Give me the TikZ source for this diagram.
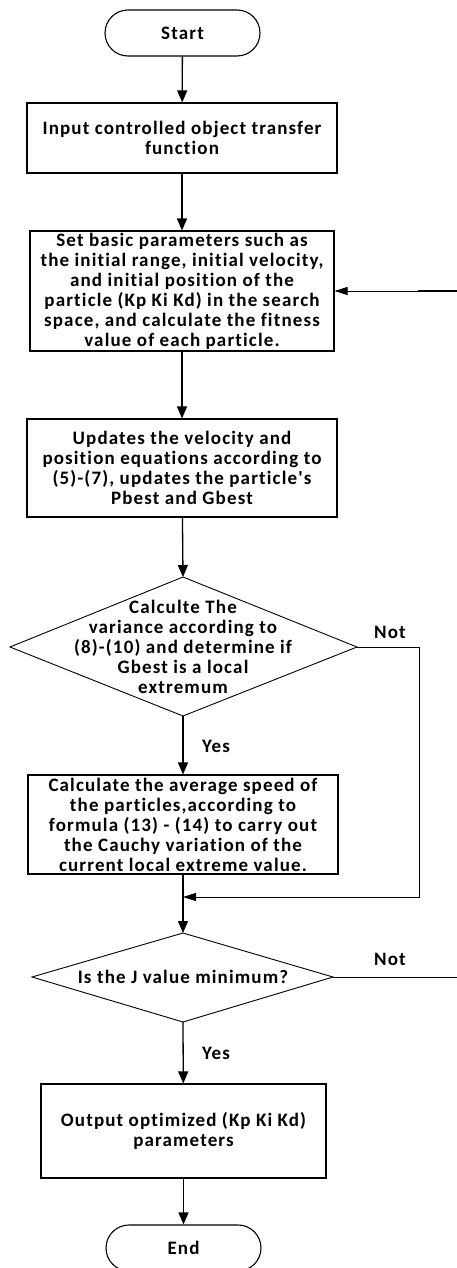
\documentclass[tikz,border=0pt]{standalone}
\usepackage{fontspec}
\newfontfamily\flowfont{Carlito}[LetterSpace=6, Ligatures=NoCommon]
\usetikzlibrary{arrows.meta}
\begin{document}
\begin{tikzpicture}[x=1pt,y=-1pt,
  txt/.style={font=\flowfont\bfseries\fontsize{19}{20}\selectfont, align=center, inner sep=0pt},
  procbox/.style={draw, line width=1.1pt, txt},
  term/.style={draw, line width=1.1pt, rounded corners=23pt, minimum width=155pt, minimum height=46pt, txt},
  flow/.style={line width=1.3pt, -{Triangle[width=10pt,length=12pt]}},
  thinflow/.style={line width=0.9pt, -{Triangle[width=8pt,length=13pt]}},
  thinline/.style={line width=0.9pt},
  decision/.style={line width=0.9pt},
  lbl/.style={txt}
]
\useasboundingbox (0,0) rectangle (457,1268);
\clip (0,0) rectangle (457,1268);

% terminals and process boxes
\node[term] (start) at (182.5,33) {Start};
\node[procbox, minimum width=310pt, minimum height=70pt] (b1) at (182,138)
  {Input controlled object transfer\\function};
\node[procbox, minimum width=304pt, minimum height=120pt] (b2) at (182,291)
  {Set basic parameters such as\\the initial range, initial velocity,\\and initial position of the\\particle (Kp Ki Kd) in the search\\space, and calculate the fitness\\value of each particle.};
\node[procbox, minimum width=310pt, minimum height=98pt] (b3) at (182,468)
  {Updates the velocity and\\position equations according to\\(5)-(7), updates the particle's\\Pbest and Gbest};

% first decision
\coordinate (d1n) at (183,577);
\coordinate (d1e) at (357,647);
\coordinate (d1s) at (183,716);
\coordinate (d1w) at (10,647);
\draw[decision] (d1n) -- (d1e) -- (d1s) -- (d1w) -- cycle;
\node[txt] (d1) at (183,647)
  {Calculte The\\variance according to\\(8)-(10) and determine if\\Gbest is a local\\extremum};

\node[procbox, minimum width=310pt, minimum height=99pt] (b4) at (183,824.5)
  {Calculate the average speed of\\the particles,according to\\formula (13) - (14) to carry out\\the Cauchy variation of the\\current local extreme value.};

% second decision
\coordinate (d2n) at (183,933);
\coordinate (d2e) at (333,977);
\coordinate (d2s) at (183,1022);
\coordinate (d2w) at (32,977);
\draw[decision] (d2n) -- (d2e) -- (d2s) -- (d2w) -- cycle;
\node[txt] (d2) at (183,977) {Is the J value minimum?};

\node[procbox, minimum width=285pt, minimum height=94pt] (b5) at (183.5,1131)
  {Output optimized (Kp Ki Kd)\\parameters};
\node[term] (stop) at (183.5,1248) {End};

% main flow
\draw[flow] (start) -- (b1);
\draw[flow] (b1) -- (b2);
\draw[flow] (b2) -- (b3);
\draw[flow] (b3) -- (d1n);
\draw[flow] (d1s) -- (b4);
\draw[flow] (b4) -- (d2n);
\draw[flow] (d2s) -- (b5);
\draw[flow] (b5) -- (stop);

% branch labels
\node[lbl] (no1) at (390,632) {Not};
\node[lbl] (yes1) at (216,746) {Yes};
\node[lbl] (no2) at (390,959) {Not};
\node[lbl] (yes2) at (216,1053) {Yes};

% bypass of the variation step
\coordinate (r1) at (419,647);
\coordinate (r2) at (419,897);
\coordinate (j1) at (183,897);
\draw[thinflow] (d1e) -- (r1) -- (r2) -- (j1);

% loop back to the initialisation
\coordinate (out2) at (457,977);
\draw[thinline] (d2e) -- (out2);
\coordinate (in2) at (457,291);
\coordinate (in2a) at (418,291);
\draw[thinflow] (in2) -- (b2.east);
\draw[line width=1.4pt] (in2) -- (in2a);
\end{tikzpicture}
\end{document}
